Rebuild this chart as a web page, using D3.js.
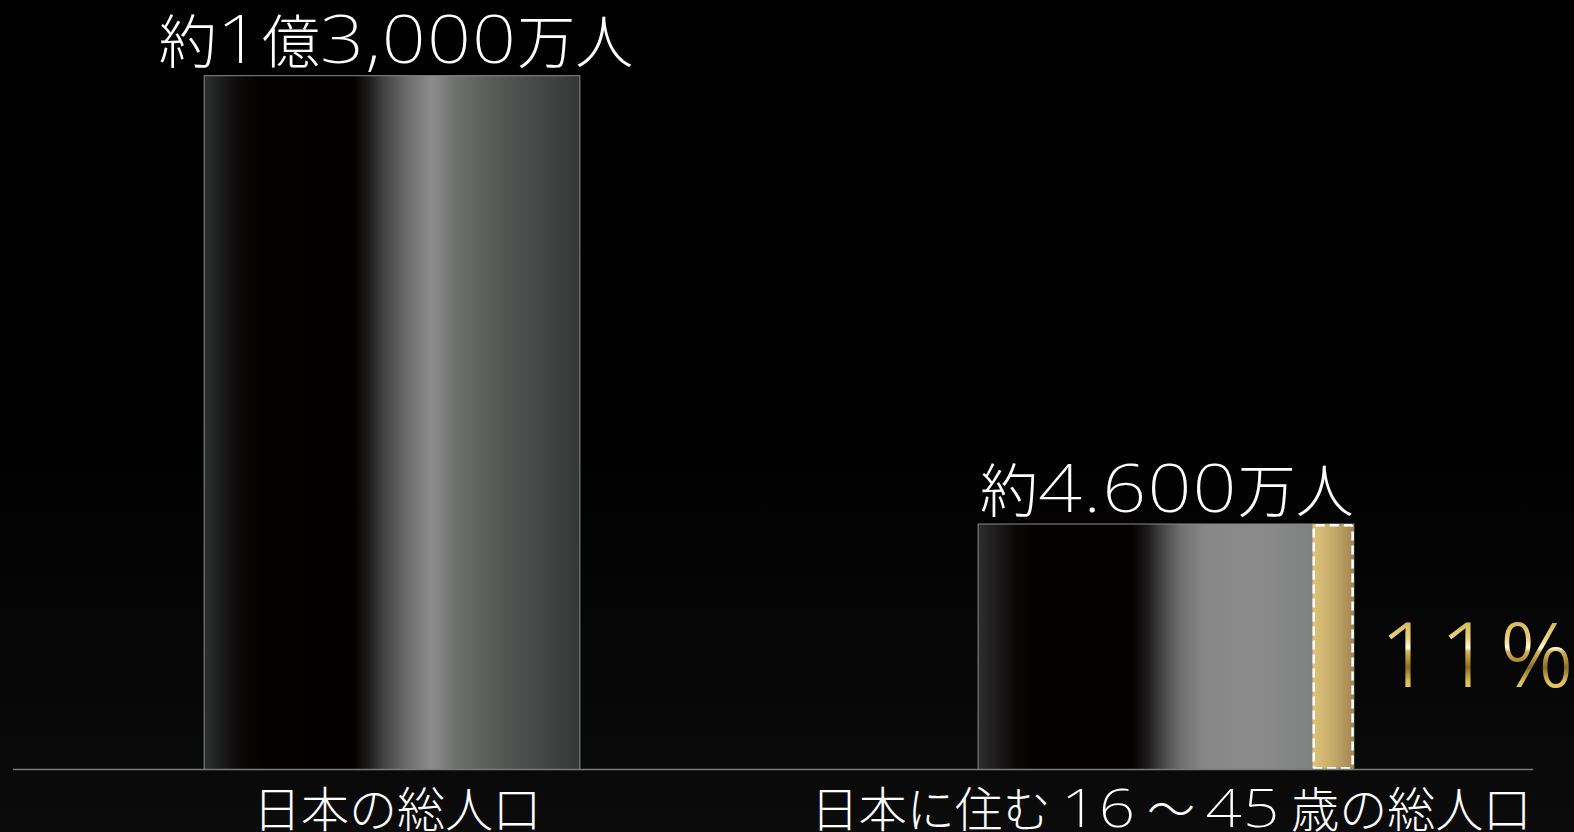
<!DOCTYPE html>
<html lang="ja">
<head>
<meta charset="utf-8">
<script src="https://cdn.jsdelivr.net/npm/d3@7"></script>
<style>
  html, body { margin: 0; padding: 0; background: #000; }
  svg { display: block; }
</style>
</head>
<body>
<svg id="chart" width="1574" height="832"></svg>
<script>
// Population figures, in units of 10,000 people (万人)
const categories = ["日本の総人口", "日本に住む 16 ～ 45 歳の総人口"];
const populations = [13000, 4600];
const valueLabels = ["約1億3,000万人", "約4.600万人"];
// Highlighted share of the second bar
const highlightShare = 0.11;
const highlightLabel = "11%";

const W = 1574, H = 832;
const svg = d3.select("#chart");
const defs = svg.append("defs");

const x = d3.scaleBand()
  .domain(categories)
  .range([13, 1545])
  .paddingInner(0.5145)
  .paddingOuter(0.247)
  .align(0.5);

const y = d3.scaleLinear()
  .domain([0, 13000])
  .range([769.5, 75.7]);

const jpFont = "'Noto Sans CJK JP', 'Noto Sans', sans-serif";
const numFont = "'Noto Sans', 'DejaVu Sans', sans-serif";

// Background: black fading to a faint charcoal near the floor
const bg = defs.append("linearGradient").attr("id", "bg")
  .attr("x1", 0).attr("y1", 0).attr("x2", 0).attr("y2", 1);
bg.append("stop").attr("offset", 0).attr("stop-color", "#000");
bg.append("stop").attr("offset", 0.5).attr("stop-color", "#000");
bg.append("stop").attr("offset", 1).attr("stop-color", "#0b0b0b");
svg.append("rect").attr("width", W).attr("height", H).attr("fill", "url(#bg)");

// Metallic shading for each bar
function metalGradient(id, stops) {
  const g = defs.append("linearGradient").attr("id", id)
    .attr("x1", 0).attr("y1", 0).attr("x2", 1).attr("y2", 0);
  stops.forEach(([o, c]) => g.append("stop").attr("offset", o).attr("stop-color", c));
}
metalGradient("metal0", [
  [0, "#2e3030"], [0.05, "#1a1a1a"], [0.095, "#0a0808"], [0.15, "#050101"],
  [0.40, "#040000"], [0.44, "#1e1e1e"], [0.475, "#404040"], [0.538, "#6a6a6a"],
  [0.605, "#8c8d8c"], [0.67, "#6e706e"], [0.76, "#5a5c5a"], [0.85, "#4c4e4d"],
  [1, "#343736"]
]);
metalGradient("metal1", [
  [0, "#2e2e2e"], [0.05, "#1c1a1a"], [0.1, "#0a0707"], [0.15, "#050101"],
  [0.41, "#050101"], [0.45, "#1a1a1a"], [0.49, "#454545"], [0.54, "#707070"],
  [0.6, "#878787"], [0.75, "#8a8b8a"], [0.89, "#7f8180"], [1, "#7a7c7b"]
]);

// Gold fill for the highlighted share
const gold = defs.append("linearGradient").attr("id", "goldBar")
  .attr("x1", 0).attr("y1", 0).attr("x2", 1).attr("y2", 0);
gold.append("stop").attr("offset", 0).attr("stop-color", "#e0c37a");
gold.append("stop").attr("offset", 0.5).attr("stop-color", "#c6aa6a");
gold.append("stop").attr("offset", 1).attr("stop-color", "#a08650");

// Bars
svg.selectAll("rect.bar")
  .data(populations)
  .join("rect")
  .attr("class", "bar")
  .attr("x", (d, i) => x(categories[i]))
  .attr("y", d => y(d))
  .attr("width", x.bandwidth())
  .attr("height", d => y(0) - y(d))
  .attr("fill", (d, i) => `url(#metal${i})`)
  .attr("stroke", "#8a8a8a")
  .attr("stroke-width", 1);

// Highlighted share at the right end of the second bar
const hx = x(categories[1]) + x.bandwidth() * (1 - highlightShare);
const hw = x.bandwidth() * highlightShare;
svg.append("rect")
  .attr("x", hx)
  .attr("y", y(populations[1]))
  .attr("width", hw)
  .attr("height", y(0) - y(populations[1]))
  .attr("fill", "url(#goldBar)");
svg.append("rect")
  .attr("x", hx + 1.25)
  .attr("y", y(populations[1]) + 1.25)
  .attr("width", hw - 2.5)
  .attr("height", y(0) - y(populations[1]) - 2.5)
  .attr("rx", 2)
  .attr("fill", "none")
  .attr("stroke", "#fff")
  .attr("stroke-width", 2.5)
  .attr("stroke-dasharray", "9 5");

// Baseline
svg.append("line")
  .attr("x1", 13).attr("x2", 1533)
  .attr("y1", y(0)).attr("y2", y(0))
  .attr("stroke", "#7a7a7a")
  .attr("stroke-width", 1.5);

// Mixed-script label as one text element: kanji/kana tspans in the CJK face,
// numeral tspans in a lighter Latin face stretched wider; centred on cx.
function mixedLabel(parent, str, cx, baseline, opts) {
  const text = parent.append("text")
    .attr("y", baseline)
    .attr("fill", "#fff")
    .attr("xml:space", "preserve")
    .style("white-space", "pre");
  const runs = str.match(/[0-9.,]+|[^0-9.,]+/g).map(run => {
    const isNum = /^[0-9.,]+$/.test(run);
    const ts = text.append("tspan")
      .attr("font-family", isNum ? numFont : jpFont)
      .attr("font-weight", isNum ? 200 : 300)
      .attr("font-size", isNum ? opts.numSize : opts.cjkSize)
      .attr("letter-spacing", isNum ? opts.numSpacing : 0)
      .text(run);
    return { ts, isNum, natural: ts.node().getComputedTextLength() };
  });
  let total = 0;
  runs.forEach(r => {
    const w = r.isNum ? r.natural * opts.numScale : r.natural;
    if (r.isNum) r.ts.attr("textLength", w).attr("lengthAdjust", "spacingAndGlyphs");
    total += w;
  });
  text.attr("x", cx - total / 2);
  return text;
}

// Value labels above bars
const valueOffsets = [4, 1];
populations.forEach((v, i) => {
  mixedLabel(svg, valueLabels[i],
    x(categories[i]) + x.bandwidth() / 2 + valueOffsets[i], y(v) - 12.5,
    { cjkSize: 58, numSize: 66, numScale: 1.17, numSpacing: 1 });
});

// Category labels under the baseline
categories.forEach((c, i) => {
  mixedLabel(svg, c, x(c) + x.bandwidth() / 2 + 5, 827,
    { cjkSize: 48, numSize: 54, numScale: 1.18, numSpacing: 1 });
});

// Gold percentage label
const gt = defs.append("linearGradient").attr("id", "goldText")
  .attr("gradientUnits", "userSpaceOnUse")
  .attr("x1", 0).attr("y1", 622).attr("x2", 0).attr("y2", 688);
[
  [0, "#d8b85a"], [0.25, "#ead27e"], [0.39, "#fffbe8"], [0.45, "#d8b450"],
  [0.69, "#8c6c22"], [0.9, "#dcbc56"], [1, "#e8c860"]
].forEach(([o, c]) => gt.append("stop").attr("offset", o).attr("stop-color", c));

svg.append("text")
  .attr("x", x(categories[1]) + x.bandwidth() + 26)
  .attr("y", 687)
  .attr("fill", "url(#goldText)")
  .attr("font-family", "'Noto Sans', sans-serif")
  .attr("font-weight", 300)
  .attr("font-size", 91)
  .attr("letter-spacing", 8)
  .text(highlightLabel);
</script>
</body>
</html>
